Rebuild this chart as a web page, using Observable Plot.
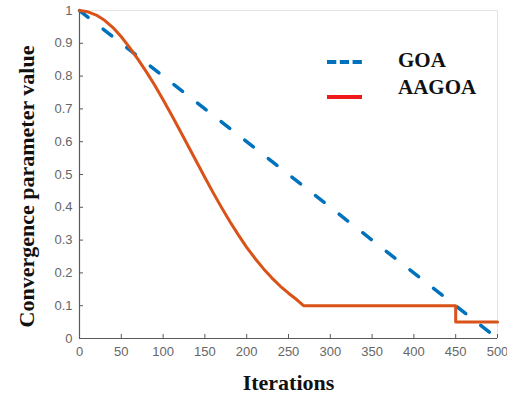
<!DOCTYPE html>
<html>
<head>
<meta charset="utf-8">
<script src="https://cdn.jsdelivr.net/npm/d3@7"></script>
<script src="https://cdn.jsdelivr.net/npm/@observablehq/plot@0.6"></script>
<style>
  html, body { margin: 0; padding: 0; background: white; }
  #wrap { position: relative; width: 507px; height: 401px; }
  #legend { position: absolute; left: 0; top: 0; pointer-events: none; }
</style>
</head>
<body>
<div id="wrap"></div>
<script>
// ---- data ----
const xTicks = [0, 50, 100, 150, 200, 250, 300, 350, 400, 450, 500];
const yTicks = [0, 0.1, 0.2, 0.3, 0.4, 0.5, 0.6, 0.7, 0.8, 0.9, 1];

const goaIter = [0, 500];
const goaValue = [1, 0];

const aagoaIter = [0, 10, 20, 30, 40, 50, 60, 70, 80, 90, 100, 110, 120, 130, 140, 150, 160, 170, 180, 190, 200, 210, 220, 230, 240, 250, 260, 268, 450, 450, 500];
const aagoaValue = [1, 0.996, 0.986, 0.970, 0.948, 0.920, 0.887, 0.851, 0.813, 0.772, 0.728, 0.682, 0.635, 0.587, 0.539, 0.491, 0.444, 0.399, 0.356, 0.316, 0.278, 0.244, 0.213, 0.185, 0.160, 0.138, 0.118, 0.1, 0.1, 0.05, 0.05];

const seriesNames = ["GOA", "AAGOA"];
const xTitle = "Iterations";
const yTitle = "Convergence parameter value";

const goa = goaIter.map((x, i) => ({x, y: goaValue[i]}));
const aagoa = aagoaIter.map((x, i) => ({x, y: aagoaValue[i]}));

const blue = "#0072BD", orange = "#D95319", axisColor = "#5a5a5a";
const serif = "'Liberation Serif', 'Times New Roman', serif";

const chart = Plot.plot({
  width: 507, height: 401,
  marginLeft: 79, marginRight: 10, marginTop: 10, marginBottom: 63,
  x: {domain: [0, 500]},
  y: {domain: [0, 1]},
  style: {fontFamily: "'Liberation Sans', Arial, sans-serif", fontSize: "13px", color: "#666666", background: "white"},
  marks: [
    Plot.frame({stroke: "#e4e4e4"}),
    Plot.axisX({ticks: xTicks, tickSize: 0, tickPadding: 8, label: null, fontSize: 13, tickFormat: d => String(d)}),
    Plot.axisY({ticks: yTicks, tickSize: 0, tickPadding: 7, label: null, fontSize: 13, tickFormat: d => String(d)}),
    Plot.tickX(xTicks, {x: d => d, insetTop: 324, stroke: axisColor}),
    Plot.tickY(yTicks, {y: d => d, insetRight: 414, stroke: axisColor}),
    Plot.ruleY([0], {stroke: axisColor, strokeWidth: 1.2}),
    Plot.ruleX([0], {stroke: axisColor, strokeWidth: 1.2}),
    Plot.line(goa, {x: "x", y: "y", stroke: blue, strokeWidth: 3.5, strokeDasharray: "11,19", strokeLinecap: "round"}),
    Plot.line(aagoa, {x: "x", y: "y", stroke: orange, strokeWidth: 3}),
    Plot.text([xTitle], {frameAnchor: "bottom", dy: 51, textAnchor: "middle", fontFamily: serif, fontWeight: "bold", fontSize: 22, fill: "#111"}),
    Plot.text([yTitle], {frameAnchor: "left", dx: -53, dy: 12, rotate: -90, textAnchor: "middle", fontFamily: serif, fontWeight: "bold", fontSize: 22, fill: "#111"})
  ]
});

const wrap = document.getElementById("wrap");
wrap.appendChild(chart);

// legend overlay
const leg = d3.select(wrap).append("svg")
  .attr("id", "legend").attr("width", 507).attr("height", 401);
const legColors = [blue, "#f01a1a"];
const legDash = ["9.3,3.5", null];
seriesNames.forEach((name, i) => {
  const yy = 62 + i * 35;
  const line = leg.append("line")
    .attr("x1", 327).attr("x2", 362).attr("y1", yy).attr("y2", yy)
    .attr("stroke", legColors[i]).attr("stroke-width", 4);
  if (legDash[i]) line.attr("stroke-dasharray", legDash[i]);
  leg.append("text")
    .attr("x", 398).attr("y", 67 + i * 27)
    .attr("font-family", serif).attr("font-weight", "bold").attr("font-size", 21)
    .attr("fill", "#111")
    .text(name);
});
</script>
</body>
</html>
